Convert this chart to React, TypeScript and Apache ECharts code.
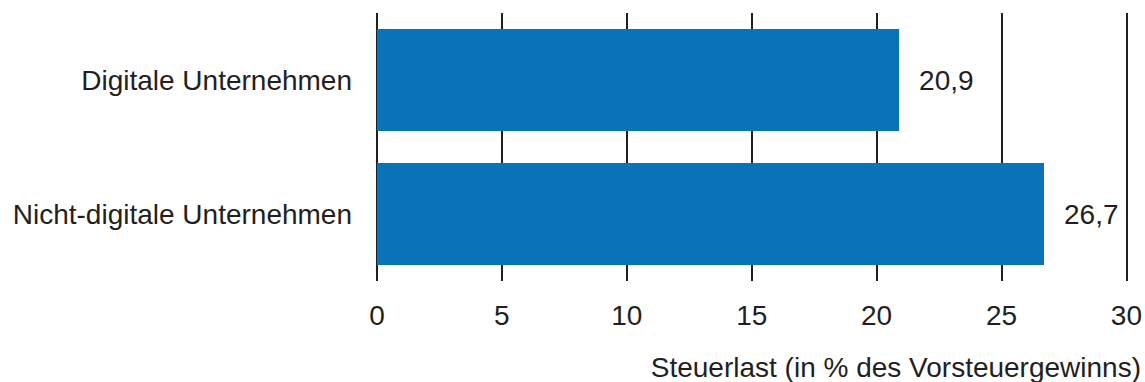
import React, { useEffect, useRef } from "react";
import * as echarts from "echarts";

const categories = ["Digitale Unternehmen", "Nicht-digitale Unternehmen"];
const values = [20.9, 26.7];
const axisTitle = "Steuerlast (in % des Vorsteuergewinns)";

const FONT = "'Liberation Sans', Arial, sans-serif";
const TEXT = "#231f20";
const SIZE = 28;

export default function App() {
  const ref = useRef<HTMLDivElement>(null);

  useEffect(() => {
    if (!ref.current) return;
    const chart = echarts.init(ref.current, undefined, { renderer: "svg" });
    chart.setOption({
      animation: false,
      grid: { left: 377, right: 18, top: 13, bottom: 101, containLabel: false },
      xAxis: {
        type: "value",
        min: 0,
        max: 30,
        interval: 5,
        axisLine: { show: false },
        axisTick: { show: false },
        axisLabel: {
          margin: 20,
          fontSize: SIZE,
          fontFamily: FONT,
          color: TEXT,
        },
        splitLine: {
          show: true,
          showMinLine: true,
          showMaxLine: true,
          lineStyle: { color: "#231f20", width: 2 },
        },
      },
      yAxis: {
        type: "category",
        data: categories,
        inverse: true,
        axisLine: { show: false },
        axisTick: { show: false },
        axisLabel: {
          margin: 25,
          fontSize: SIZE,
          fontFamily: FONT,
          color: TEXT,
        },
      },
      series: [
        {
          type: "bar",
          data: values,
          barCategoryGap: "24%",
          itemStyle: { color: "#0873b9" },
          label: {
            show: true,
            position: "right",
            distance: 20,
            fontSize: SIZE,
            fontFamily: FONT,
            color: TEXT,
            formatter: (p: any) => String(p.value).replace(".", ","),
          },
        },
      ],
      graphic: [
        {
          type: "text",
          right: 4,
          top: 353,
          style: {
            text: axisTitle,
            fontSize: SIZE,
            fontFamily: FONT,
            fill: TEXT,
          },
        },
      ],
    });
    return () => chart.dispose();
  }, []);

  return (
    <div
      ref={ref}
      style={{ position: "fixed", left: 0, top: 0, width: 1145, height: 382, background: "#fff" }}
    />
  );
}
